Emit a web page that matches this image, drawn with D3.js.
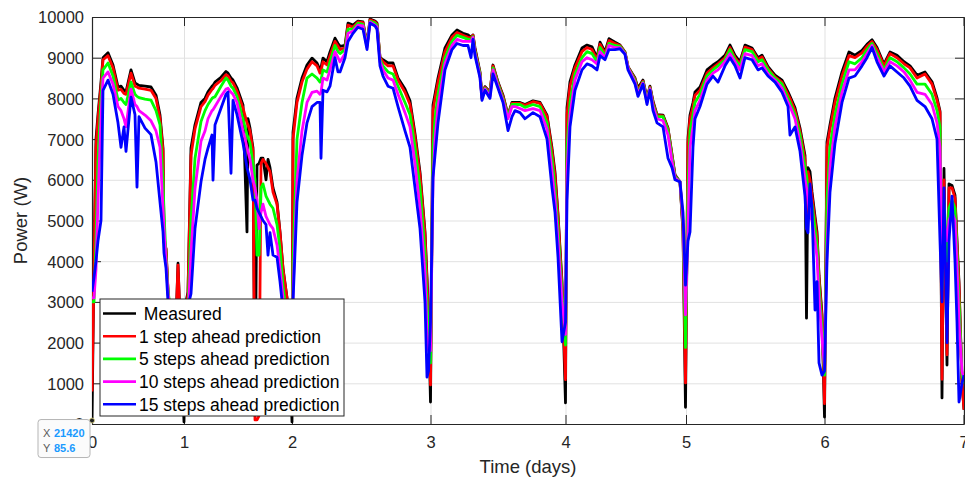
<!DOCTYPE html>
<html>
<head>
<meta charset="utf-8">
<script src="https://cdn.jsdelivr.net/npm/d3@7"></script>
<style>
  body { margin: 0; background: #fff; }
  text { font-family: "Liberation Sans", Arial, Helvetica, sans-serif; }
</style>
</head>
<body>
<div id="chart"></div>
<script>
// sample index (offset from sample 21420) and power readings in W
const step = [0, 2, 4, 6, 9, 11, 16, 21, 26, 29, 32, 34, 39, 43, 45, 47, 53, 59, 64, 68,
  71, 72, 74, 76, 80, 84, 86, 88, 92, 94, 96, 99, 103, 109, 113, 116, 120, 121, 123, 129,
  134, 136, 139, 141, 145, 151, 155, 156, 158, 161, 163, 165, 167, 169, 171, 174, 176, 178, 181, 185,
  188, 191, 195, 198, 200, 201, 205, 210, 215, 220, 225, 228, 229, 231, 235, 238, 243, 246, 248, 253,
  256, 261, 266, 271, 275, 278, 283, 285, 288, 291, 296, 301, 306, 313, 318, 323, 328, 333, 335, 336.5,
  338.5, 341, 343, 346, 353, 360, 365, 371, 376, 379, 381, 383, 388, 390, 393, 398, 401, 406, 411, 416,
  420, 423, 428, 433, 441, 448, 455, 460, 463, 466, 470, 473.5, 475, 478, 483, 490, 495, 500, 505, 508,
  513, 517, 523, 528, 533, 536, 543, 546, 551, 555, 558, 561, 565, 571, 576, 580, 583, 588, 591, 593.5,
  596, 598, 601, 603, 608, 615, 621, 626, 633, 638, 643, 648, 653, 660, 666, 670, 676, 683, 690, 696,
  698, 703, 708, 713, 714.5, 716, 718, 720, 723, 725, 727, 730, 732.5, 735, 738, 743, 750, 757, 763, 770,
  775, 780, 785, 792, 798, 805, 812, 818, 825, 833, 840, 845, 848, 850, 852, 855, 857, 860, 863, 865,
  867, 870, 872];

const measured = [85, 4000, 7000, 7600, 8400, 9000, 9120, 8820, 8280, 8300,
  8200, 8160, 8700, 8380, 8350, 8320, 8300, 8280, 8080, 7590,
  6780, 4470, 4300, 3240, 2000, 2500, 3950, 2600, 50, 3000,
  3240, 6780, 7350, 7900, 8000, 8160, 8300, 8320, 8400, 8520,
  8660, 8620, 8500, 8450, 8260, 7840, 4720, 7500, 7270, 6780,
  200, 6360, 6400, 6530, 6530, 6000, 6500, 6300, 5800, 5450,
  4720, 3830, 3100, 1500, 50, 7170, 8010, 8500, 8820, 8990,
  8870, 8700, 8750, 8990, 8900, 9140, 9480, 9350, 9280, 9300,
  9850, 9800, 9900, 9880, 9310, 9950, 9900, 9850, 9010, 8950,
  8870, 8870, 8500, 8230, 7940, 7130, 6190, 4720, 3600, 2680,
  540, 7840, 8100, 8500, 9240, 9560, 9680, 9600, 9560, 9500,
  9560, 9240, 8650, 8030, 8290, 8160, 8820, 8400, 8080, 7590,
  7900, 7900, 7900, 7850, 7940, 7900, 7590, 6780, 6190, 5150,
  3490, 520, 7770, 8410, 8820, 9240, 9310, 9270, 9000, 9380,
  9140, 9470, 9380, 9310, 9140, 8780, 8500, 8250, 8450, 8000,
  8300, 7930, 7600, 7590, 7270, 6620, 6120, 5950, 4720, 410,
  7030, 7590, 7900, 8160, 8280, 8700, 8820, 8900, 9060, 9310,
  9060, 8900, 9310, 9240, 9000, 9060, 8780, 8570, 8450, 8160,
  8050, 7770, 7270, 6600, 2600, 6300, 6200, 5700, 5100, 4720,
  3650, 2700, 170, 6930, 7350, 8010, 8650, 9140, 9060, 9180,
  9330, 9440, 9250, 8840, 9140, 9060, 8900, 8800, 8570, 8650,
  8410, 8010, 7690, 640, 6280, 1450, 5900, 5860, 5620, 4500,
  3490, 1030, 350];

const pred1 = [800, 3800, 6800, 7500, 8300, 8950, 9050, 8750, 8200, 8220,
  8120, 8100, 8620, 8300, 8280, 8250, 8230, 8200, 8000, 7500,
  6700, 4600, 4300, 3300, 2100, 2500, 3900, 2600, 300, 2800,
  3200, 6600, 7250, 7800, 7920, 8080, 8220, 8240, 8320, 8440,
  8580, 8550, 8420, 8380, 8180, 7760, 7400, 7350, 7200, 6700,
  100, 100, 200, 6400, 6500, 6400, 6300, 6200, 5700, 5400,
  4700, 3800, 3100, 1600, 300, 7000, 7900, 8400, 8720, 8900,
  8800, 8620, 8680, 8900, 8820, 9050, 9400, 9280, 9200, 9240,
  9800, 9750, 9880, 9860, 9300, 9930, 9880, 9830, 9000, 8900,
  8800, 8800, 8450, 8150, 7850, 7050, 6100, 4650, 3500, 2600,
  960, 7700, 8000, 8400, 9150, 9500, 9620, 9550, 9500, 9480,
  9550, 9200, 8620, 8000, 8270, 8150, 8800, 8380, 8050, 7580,
  7880, 7880, 7880, 7830, 7920, 7880, 7550, 6700, 6100, 5100,
  3400, 1090, 7600, 8300, 8750, 9150, 9250, 9200, 8950, 9330,
  9100, 9420, 9350, 9300, 9130, 8770, 8480, 8200, 8420, 7980,
  8280, 7900, 7580, 7570, 7250, 6600, 6100, 5950, 4800, 1010,
  6900, 7500, 7800, 8080, 8200, 8620, 8750, 8850, 9000, 9250,
  9000, 8850, 9260, 9200, 8950, 9020, 8740, 8530, 8400, 8100,
  8000, 7700, 7200, 6500, 4800, 6200, 6000, 5600, 5000, 4600,
  3600, 2600, 500, 6800, 7250, 7900, 8550, 9050, 9000, 9120,
  9280, 9400, 9200, 8800, 9100, 9000, 8850, 8750, 8500, 8600,
  8350, 7950, 7650, 1100, 6000, 1700, 5800, 5800, 5550, 4400,
  3400, 1000, 350];

const pred5 = [3000, 3000, 4500, 6500, 8000, 8700, 8870, 8550, 7960, 8000,
  7900, 7850, 8400, 8100, 8050, 8020, 7980, 7960, 7700, 7350,
  6000, 5200, 4100, 3300, 2400, 2200, 2800, 3000, 1500, 1800,
  2800, 5000, 6530, 7430, 7700, 7850, 8000, 8020, 8040, 8300,
  8500, 8450, 8300, 8250, 8050, 7500, 7100, 7050, 6900, 6400,
  6000, 4150, 4150, 5800, 5900, 5600, 5500, 5400, 5300, 4900,
  4300, 3400, 2600, 1800, 1200, 4000, 7000, 7900, 8500, 8600,
  8500, 8400, 8450, 8700, 8650, 8900, 9300, 9150, 9100, 9200,
  9700, 9700, 9850, 9820, 9300, 9900, 9850, 9800, 8950, 8800,
  8650, 8600, 8300, 7900, 7600, 6800, 5800, 4200, 3000, 2300,
  1500, 6800, 7500, 8100, 9000, 9400, 9550, 9500, 9450, 9450,
  9520, 9150, 8600, 8000, 8250, 8100, 8750, 8350, 8000, 7550,
  7850, 7850, 7850, 7780, 7850, 7800, 7400, 6500, 5800, 4800,
  3200, 1940, 6800, 7900, 8600, 9000, 9150, 9100, 8900, 9250,
  9050, 9350, 9300, 9280, 9120, 8760, 8450, 8150, 8400, 7950,
  8260, 7850, 7550, 7550, 7200, 6550, 6080, 5950, 4900, 1880,
  5800, 7200, 7600, 7900, 8100, 8550, 8700, 8800, 8950, 9200,
  8950, 8800, 9200, 9150, 8900, 8950, 8700, 8500, 8350, 8000,
  7900, 7600, 7100, 6300, 6100, 5800, 5600, 5400, 4800, 4400,
  3400, 2300, 1200, 5500, 6800, 7600, 8350, 8900, 8850, 9000,
  9200, 9350, 9100, 8700, 9000, 8900, 8750, 8600, 8350, 8350,
  8100, 7700, 7300, 3300, 5500, 4000, 5300, 5500, 5300, 4200,
  3000, 1200, 1000];

const pred10 = [3100, 3100, 3800, 5500, 7500, 8500, 8650, 8350, 7800, 7700,
  7500, 7300, 8230, 7850, 7800, 7700, 7590, 7450, 7200, 6800,
  5300, 4800, 4000, 3200, 2500, 2200, 2600, 2800, 2000, 2000,
  2600, 4200, 5780, 6950, 7200, 7500, 7700, 7720, 7800, 8050,
  8230, 8250, 8150, 8100, 7900, 7200, 6800, 6700, 6500, 6000,
  5800, 5500, 4800, 5200, 5400, 5100, 5000, 4900, 4800, 4400,
  3800, 3100, 2400, 1800, 1500, 3200, 6000, 7200, 7900, 8150,
  8180, 8100, 8150, 8500, 8450, 8700, 9150, 9000, 8900, 9100,
  9600, 9650, 9800, 9780, 9250, 9880, 9800, 9760, 8900, 8700,
  8500, 8450, 8100, 7650, 7300, 6400, 5300, 3700, 2200, 1800,
  1800, 6000, 7000, 7800, 8850, 9300, 9450, 9400, 9400, 9400,
  9500, 9100, 8550, 8000, 8230, 8050, 8700, 8300, 7950, 7500,
  7800, 7800, 7750, 7700, 7750, 7700, 7250, 6200, 5500, 4500,
  3000, 2200, 6200, 7600, 8450, 8900, 9000, 8950, 8850, 9150,
  9000, 9300, 9250, 9250, 9100, 8750, 8400, 8100, 8380, 7900,
  8240, 7800, 7500, 7450, 7100, 6450, 6050, 5950, 5000, 2680,
  4800, 6800, 7300, 7700, 7950, 8450, 8620, 8700, 8900, 9100,
  8900, 8700, 9100, 9050, 8800, 8850, 8600, 8450, 8250, 7900,
  7800, 7500, 6900, 6000, 5800, 5500, 5100, 5000, 4500, 4100,
  3100, 2100, 1400, 4300, 6300, 7300, 8150, 8700, 8700, 8900,
  9100, 9300, 9000, 8650, 8900, 8800, 8650, 8450, 8150, 8100,
  7850, 7400, 6800, 4200, 5000, 4500, 5000, 5200, 5000, 3900,
  2500, 1300, 1100];

const pred15 = [3250, 3600, 4000, 4500, 5000, 8200, 8450, 8100, 7400, 6800,
  7300, 6700, 8030, 7600, 5820, 7550, 7270, 7110, 6440, 5450,
  4720, 4200, 3830, 3000, 2600, 2300, 2400, 2500, 2500, 2300,
  2900, 3200, 4800, 5950, 6500, 6780, 7100, 5990, 7350, 7760,
  8100, 8160, 6160, 7950, 7600, 6900, 6300, 6200, 6000, 5500,
  5500, 5300, 5200, 5100, 5000, 4900, 4150, 4700, 4150, 4100,
  3500, 2800, 2200, 1900, 2000, 3000, 5450, 6600, 7400, 7800,
  7900, 7900, 6530, 8200, 8160, 8300, 9000, 8650, 8650, 9000,
  9400, 9600, 9750, 9700, 9200, 9850, 9780, 9700, 8800, 8550,
  8300, 8250, 7800, 7200, 6800, 5800, 4800, 3000, 1150, 1300,
  2500, 6060, 6600, 7400, 8700, 9200, 9350, 9300, 9300, 9000,
  9450, 9050, 8500, 7950, 8200, 8000, 8600, 8250, 7900, 7210,
  7550, 7700, 7650, 7500, 7650, 7550, 7000, 5800, 5200, 4100,
  2020, 2500, 5500, 7300, 8200, 8700, 8850, 8800, 8700, 9050,
  8950, 9200, 9200, 9220, 9080, 8700, 8350, 8050, 8350, 7850,
  8200, 7700, 7400, 7300, 6530, 6300, 6000, 5950, 5200, 3410,
  4500, 4720, 6800, 7500, 7800, 8350, 8550, 8400, 8800, 9000,
  8800, 8500, 9000, 8950, 8700, 8750, 8550, 8400, 8150, 7800,
  7100, 7300, 6700, 5600, 4800, 4700, 5900, 5300, 2800, 3500,
  1500, 1200, 1300, 4000, 5700, 6900, 7900, 8500, 8550, 8800,
  9000, 9250, 8900, 8550, 8800, 8650, 8500, 8300, 7950, 7800,
  7500, 7000, 4500, 3000, 5800, 2000, 4500, 5600, 4000, 2500,
  540, 1000, 1200];

const seriesNames = [" Measured", "1 step ahead prediction", "5 steps ahead prediction",
  "10 steps ahead prediction", "15 steps ahead prediction"];
const seriesColors = ["#000000", "#ff0000", "#00ff00", "#ff00ff", "#0000ff"];

// day boundaries (sample offsets) and their labels
const dayTicks = [0, 92, 200, 338.5, 473.5, 594, 732.5, 871.5];
const dayLabels = ["0", "1", "2", "3", "4", "5", "6", "7"];
const powerTicks = [0, 1000, 2000, 3000, 4000, 5000, 6000, 7000, 8000, 9000, 10000];

// datatip shown on the first sample
const tipLabelX = "21420";
const tipLabelY = "85.6";

// set the dimensions and margins of the graph
const margin = { top: 17, right: 1, bottom: 56, left: 92 },
  width = 965 - margin.left - margin.right,
  height = 480 - margin.top - margin.bottom;
const plotH = 407;

const svg = d3
  .select("#chart")
  .append("svg")
  .attr("width", 965)
  .attr("height", 480)
  .append("g")
  .attr("transform", `translate(${margin.left}, ${margin.top})`);

const x = d3.scaleLinear().domain([0, 872]).range([0, width]);
const y = d3.scaleLinear().domain([0, 10000]).range([plotH, 0]);

const axisColor = "#262626";
const gridColor = "#e1e1e1";

// grid
svg.append("g")
  .call(d3.axisBottom(x).tickValues(dayTicks).tickSize(plotH).tickFormat(""))
  .call((g) => g.select(".domain").remove())
  .selectAll("line").attr("class", "grid").attr("stroke", gridColor);
svg.append("g")
  .call(d3.axisLeft(y).tickValues(powerTicks).tickSize(-width).tickFormat(""))
  .call((g) => g.select(".domain").remove())
  .selectAll("line").attr("class", "grid").attr("stroke", gridColor);

// axes (ticks pointing inwards, box on)
const xAxis = svg.append("g")
  .attr("transform", `translate(0, ${plotH})`)
  .call(d3.axisBottom(x).tickValues(dayTicks)
    .tickFormat((d, i) => dayLabels[i]).tickSizeInner(-9).tickSizeOuter(0));
xAxis.selectAll("text").attr("y", 24).attr("dy", null)
  .style("font-size", "16.5px").attr("fill", axisColor);

const yAxis = svg.append("g")
  .call(d3.axisLeft(y).tickValues(powerTicks).tickFormat(d3.format("d"))
    .tickSizeInner(-9).tickSizeOuter(0));
yAxis.selectAll("text").attr("x", -8).attr("dy", "0.36em")
  .style("font-size", "16.5px").attr("fill", axisColor);

svg.append("g")
  .call(d3.axisTop(x).tickValues(dayTicks).tickFormat("").tickSizeInner(-9).tickSizeOuter(0));
svg.append("g")
  .attr("transform", `translate(${width}, 0)`)
  .call(d3.axisRight(y).tickValues(powerTicks).tickFormat("").tickSizeInner(-9).tickSizeOuter(0));

svg.selectAll(".domain").attr("stroke", axisColor).attr("stroke-width", 1.2);
svg.selectAll(".tick line:not(.grid)").attr("stroke", axisColor);

// axis labels
svg.append("text")
  .attr("x", width / 2)
  .attr("y", 456)
  .attr("text-anchor", "middle")
  .style("font-size", "18.5px")
  .attr("fill", axisColor)
  .text("Time (days)");
svg.append("text")
  .attr("transform", `translate(-65, ${plotH / 2}) rotate(-90)`)
  .attr("text-anchor", "middle")
  .style("font-size", "18.5px")
  .attr("fill", axisColor)
  .text("Power (W)");

// clip the lines to the axes area
svg.append("clipPath").attr("id", "clip")
  .append("rect").attr("width", width).attr("height", plotH);

const lineGen = d3.line()
  .x((d) => x(d[0]))
  .y((d) => y(d[1]));

const allSeries = [measured, pred1, pred5, pred10, pred15];
const lines = svg.append("g").attr("clip-path", "url(#clip)");
allSeries.forEach(function (vals, k) {
  lines.append("path")
    .datum(step.map((s, i) => [s, vals[i]]))
    .attr("fill", "none")
    .attr("stroke", seriesColors[k])
    .attr("stroke-width", 2.8)
    .attr("stroke-linejoin", "round")
    .attr("d", lineGen);
});

// legend
const legend = svg.append("g").attr("transform", "translate(8, 282)");
legend.append("rect")
  .attr("width", 244).attr("height", 117)
  .attr("fill", "#fff").attr("stroke", axisColor).attr("stroke-width", 1);
seriesNames.forEach(function (name, i) {
  const row = legend.append("g").attr("transform", `translate(0, ${14.5 + i * 22.7})`);
  row.append("line")
    .attr("x1", 3).attr("x2", 36)
    .attr("stroke", seriesColors[i]).attr("stroke-width", 2.6);
  row.append("text")
    .attr("x", 39).attr("dy", "0.36em")
    .attr("xml:space", "preserve")
    .style("white-space", "pre")
    .style("font-size", "17.5px")
    .attr("fill", "#000")
    .text(name);
});

// data tip at the first sample
const tipX = x(step[0]), tipY = y(measured[0]);
svg.append("circle")
  .attr("cx", tipX).attr("cy", tipY).attr("r", 2.5)
  .attr("fill", "#222").attr("stroke", "#e8e08a").attr("stroke-width", 0.8);
const tip = svg.append("g").attr("transform", `translate(${tipX - 54}, ${tipY - 1})`);
tip.append("rect")
  .attr("width", 52).attr("height", 38).attr("rx", 3)
  .attr("fill", "#fbfbfb").attr("stroke", "#b5b5b5");
tip.append("text").attr("x", 5).attr("y", 17)
  .style("font-size", "11px").attr("fill", "#5a5a5a").text("X");
tip.append("text").attr("x", 16).attr("y", 17)
  .style("font-size", "11px").style("font-weight", "bold").attr("fill", "#1a9aff").text(tipLabelX);
tip.append("text").attr("x", 5).attr("y", 32)
  .style("font-size", "11px").attr("fill", "#5a5a5a").text("Y");
tip.append("text").attr("x", 16).attr("y", 32)
  .style("font-size", "11px").style("font-weight", "bold").attr("fill", "#1a9aff").text(tipLabelY);
</script>
</body>
</html>
